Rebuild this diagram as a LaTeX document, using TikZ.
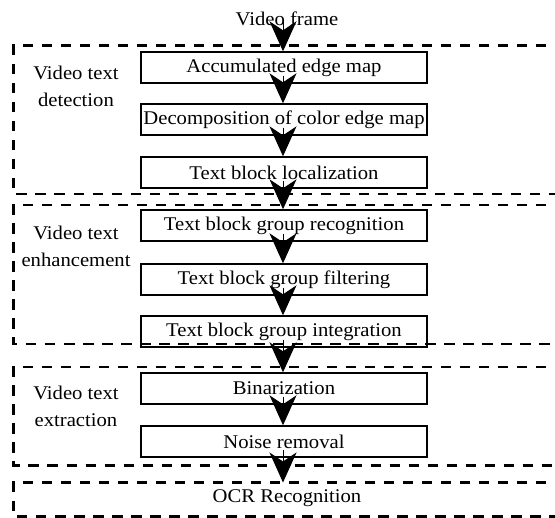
\documentclass[tikz,border=0pt]{standalone}
\usepackage{fontspec}
\setmainfont{Liberation Serif}[FakeStretch=1.065]
\usetikzlibrary{arrows.meta}
\begin{document}
\begin{tikzpicture}[x=1pt,y=-1pt,
  every node/.style={font=\fontsize{19.4}{27}\selectfont},
  stepbox/.style={draw,line width=1.4pt,minimum width=286pt,minimum height=31pt,inner sep=0pt},
  frame/.style={draw,line width=2.4pt,dash pattern=on 10.5pt off 8.5pt},
  lbl/.style={align=center},
  arr/.style={-{Stealth[length=30pt,width=27pt,inset=9pt]},line width=1pt}]
\useasboundingbox (0,0) rectangle (555,518);
\begin{scope}
\clip (0,0) rectangle (555,518);
\draw[frame] (565,45.5) -- (13.5,45.5) -- (13.5,194) -- (565,194);
\draw[frame] (565,205) -- (13.5,205) -- (13.5,344) -- (565,344);
\draw[frame] (565,367) -- (13.5,367) -- (13.5,465.5) -- (565,465.5);
\draw[frame] (565,482.5) -- (13.5,482.5) -- (13.5,516.5) -- (565,516.5);
\end{scope}
\node (vf) at (287,18.5) {Video frame};
\node[stepbox] (b1) at (284,67.5) {Accumulated edge map};
\node[stepbox] (b2) at (284,119.5) {Decomposition of color edge map};
\node[stepbox] (b3) at (284,172.5) {Text block localization};
\node[stepbox] (b4) at (284,225.5) {Text block group recognition};
\node[stepbox] (b5) at (284,279.5) {Text block group filtering};
\node[stepbox] (b6) at (284,331.5) {Text block group integration};
\node[stepbox] (b7) at (284,388.5) {Binarization};
\node[stepbox] (b8) at (284,441.5) {Noise removal};
\node (ocr) at (287,498) {OCR Recognition};
\coordinate (ocrtop) at (283,482.5);
\coordinate (vfbot) at (283,22);
\node[lbl] (l1) at (76,86.5) {Video text\\detection};
\node[lbl] (l2) at (76,246.5) {Video text\\enhancement};
\node[lbl] (l3) at (76,406.5) {Video text\\extraction};
\draw[arr] (vfbot) -- ([xshift=-1pt]b1.north);
\draw[arr] ([xshift=-1pt,yshift=8pt]b1.south) -- ([xshift=-1pt]b2.north);
\draw[arr] ([xshift=-1pt,yshift=8pt]b2.south) -- ([xshift=-1pt]b3.north);
\draw[arr] ([xshift=-1pt,yshift=8pt]b3.south) -- ([xshift=-1pt]b4.north);
\draw[arr] ([xshift=-1pt,yshift=8pt]b4.south) -- ([xshift=-1pt]b5.north);
\draw[arr] ([xshift=-1pt,yshift=8pt]b5.south) -- ([xshift=-1pt]b6.north);
\draw[arr] ([xshift=-1pt,yshift=8pt]b6.south) -- ([xshift=-1pt]b7.north);
\draw[arr] ([xshift=-1pt,yshift=8pt]b7.south) -- ([xshift=-1pt]b8.north);
\draw[arr] ([xshift=-1pt,yshift=8pt]b8.south) -- (ocrtop);
\end{tikzpicture}
\end{document}
